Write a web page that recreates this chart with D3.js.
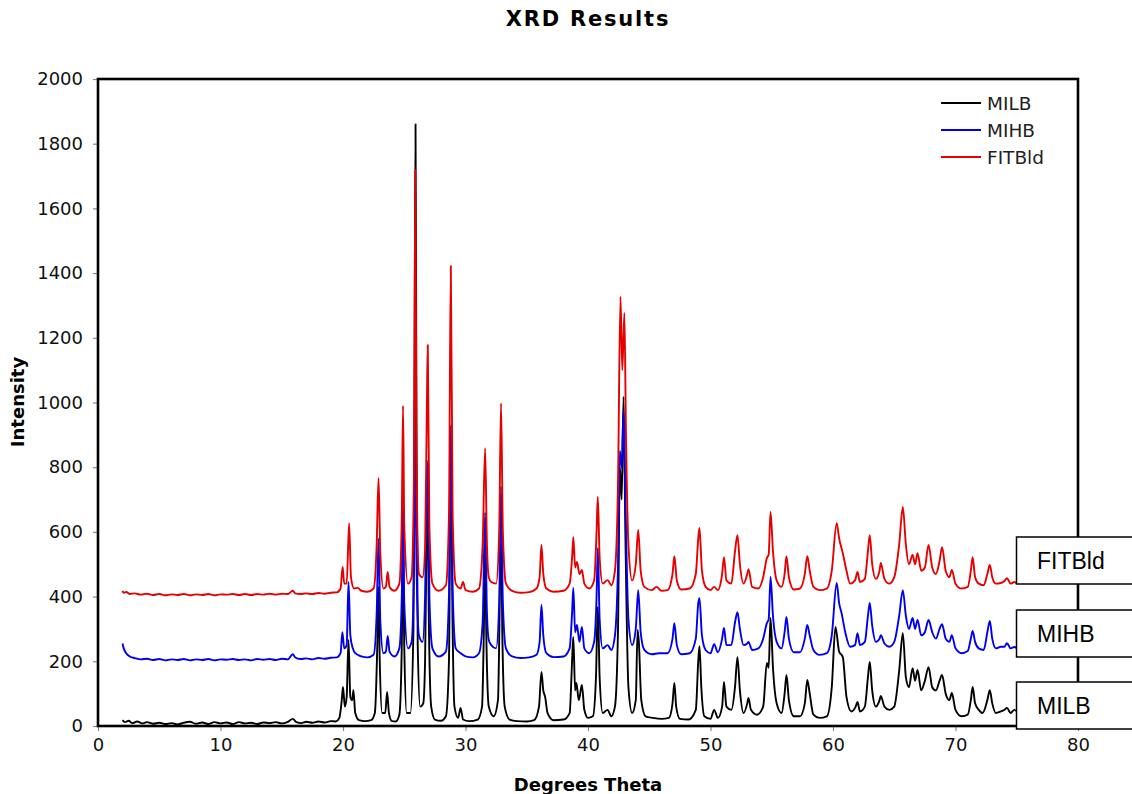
<!DOCTYPE html>
<html><head><meta charset="utf-8">
<script src="https://cdn.jsdelivr.net/npm/d3@7"></script>
<style>body{margin:0;background:#fff}svg{display:block}</style>
</head><body>
<svg id="chart" width="1132" height="794"></svg>
<script>
const seriesNames = ["MILB", "MIHB", "FITBld"];
const seriesColors = ["#000000", "#0000ee", "#e60000"];
const xTicks = [0,10,20,30,40,50,60,70,80];
const yTicks = [0,200,400,600,800,1000,1200,1400,1600,1800,2000];

const milb = [[2.0,18],[2.2,12],[2.5,16],[2.8,9],[3.2,14],[3.6,8],[4.0,12],[4.5,7],[5.0,10],[5.5,6],[6.0,9],[6.5,5],[7.0,10],[7.5,13],[8.0,7],[8.5,11],[9.0,6],[9.5,12],[10.0,8],[10.5,11],[11.0,6],[11.5,12],[12.0,8],[12.5,10],[13.0,6],[13.5,11],[14.0,9],[14.5,12],[15.0,8],[15.5,13],[15.9,22],[16.2,12],[16.6,9],[17.0,13],[17.5,10],[18.0,14],[18.5,11],[19.0,15],[19.4,14],
[19.7,25],[19.9,80],[20.0,121],[20.15,60],[20.3,90],[20.45,266],[20.6,90],[20.75,80],[20.85,111],[21.0,40],[21.3,18],[21.8,15],[22.3,18],[22.6,40],[22.8,250],[22.9,430],[23.0,200],[23.2,40],[23.45,40],[23.6,105],[23.75,40],[24.0,15],[24.3,14],[24.6,35],[24.8,250],[24.9,600],[25.0,250],[25.2,40],[25.5,40],[25.75,300],[25.85,1200],[25.92,1860],[26.0,900],[26.1,250],[26.3,60],[26.55,70],[26.7,200],[26.85,650],[26.92,720],[27.0,350],[27.2,60],[27.5,20],[28.0,16],[28.4,30],[28.65,200],[28.8,860],[28.95,300],[29.1,60],[29.4,25],[29.6,56],[29.8,20],[30.3,15],[31.0,20],[31.35,60],[31.5,300],[31.6,560],[31.7,280],[31.9,60],[32.3,30],[32.65,80],[32.8,400],[32.9,700],[33.0,300],[33.2,60],[33.6,20],[34.2,15],[35.0,14],[35.6,18],[36.0,60],[36.2,167],[36.35,110],[36.5,90],[36.7,40],[37.2,18],[38.0,20],[38.5,40],[38.7,200],[38.8,275],[38.95,110],[39.05,133],[39.25,80],[39.5,127],[39.7,50],[40.0,25],[40.4,30],[40.65,150],[40.8,368],[40.95,150],[41.2,40],[41.6,50],[41.9,30],[42.2,60],[42.45,300],[42.6,800],[42.75,700],[42.9,1018],[43.05,600],[43.3,120],[43.6,40],[43.9,80],[44.05,297],[44.15,260],[44.35,80],[44.7,30],[45.3,25],[46.0,22],[46.6,25],[46.9,70],[47.05,133],[47.2,60],[47.5,22],[48.2,20],[48.8,50],[49.0,200],[49.1,247],[49.25,120],[49.5,30],[50.0,22],[50.3,50],[50.6,25],[50.95,60],[51.1,136],[51.3,60],[51.7,50],[52.0,120],[52.2,213],[52.4,110],[52.7,40],[53.0,70],[53.1,87],[53.3,50],[53.8,35],[54.3,60],[54.6,195],[54.75,180],[54.9,334],[55.1,180],[55.4,70],[55.8,40],[56.05,100],[56.2,158],[56.4,80],[56.8,30],[57.3,30],[57.7,70],[57.9,142],[58.1,100],[58.4,35],[58.9,25],[59.5,30],[59.9,120],[60.2,306],[60.5,230],[60.8,213],[61.1,90],[61.5,45],[61.85,60],[62.0,74],[62.2,45],[62.6,60],[62.85,150],[63.0,198],[63.2,110],[63.5,60],[63.8,80],[63.9,93],[64.2,60],[64.6,50],[65.0,60],[65.4,170],[65.7,287],[65.95,150],[66.2,120],[66.5,179],[66.7,140],[66.9,173],[67.2,110],[67.5,140],[67.8,182],[68.1,120],[68.4,110],[68.7,140],[68.9,158],[69.2,100],[69.5,80],[69.7,102],[70.0,50],[70.5,30],[71.0,35],[71.25,80],[71.4,121],[71.6,70],[71.9,50],[72.2,40],[72.6,80],[72.8,111],[73.0,70],[73.3,40],[73.7,45],[74.0,50],[74.2,56],[74.5,40],[74.8,50],[75.0,45]];

const mihb = [[2.0,255],[2.1,240],[2.3,225],[2.6,215],[3.0,210],[3.5,206],[4.0,208],[4.5,204],[5.0,207],[5.5,203],[6.0,206],[6.5,204],[7.0,207],[7.5,203],[8.0,206],[8.5,204],[9.0,207],[9.5,203],[10.0,206],[10.5,205],[11.0,207],[11.5,204],[12.0,206],[12.5,203],[13.0,207],[13.5,205],[14.0,207],[14.5,204],[15.0,208],[15.5,206],[15.9,222],[16.1,212],[16.5,207],[17.0,209],[17.5,206],[18.0,210],[18.5,208],[19.0,211],[19.5,212],
[19.8,225],[19.95,290],[20.1,240],[20.3,250],[20.45,445],[20.6,280],[20.8,240],[21.0,225],[21.5,215],[22.0,212],[22.5,220],[22.75,350],[22.9,580],[23.05,320],[23.3,225],[23.5,230],[23.65,278],[23.8,230],[24.2,215],[24.6,240],[24.8,400],[24.9,700],[25.0,380],[25.3,240],[25.6,260],[25.8,500],[25.9,1150],[26.0,500],[26.2,280],[26.5,260],[26.7,400],[26.85,750],[26.95,820],[27.05,400],[27.3,240],[27.8,215],[28.4,230],[28.65,400],[28.8,930],[28.95,420],[29.2,240],[29.6,225],[30.0,215],[30.6,212],[31.1,225],[31.4,320],[31.6,660],[31.75,350],[31.9,266],[32.1,250],[32.5,240],[32.75,380],[32.9,740],[33.05,380],[33.3,240],[33.8,215],[34.5,210],[35.2,212],[35.8,220],[36.05,260],[36.2,374],[36.35,280],[36.6,225],[37.2,213],[38.0,215],[38.5,240],[38.7,350],[38.8,427],[38.95,290],[39.1,312],[39.3,260],[39.5,306],[39.7,240],[40.1,225],[40.5,260],[40.7,400],[40.8,550],[40.95,330],[41.2,240],[41.6,250],[41.9,235],[42.2,280],[42.45,500],[42.6,850],[42.75,800],[42.9,975],[43.05,700],[43.3,330],[43.6,250],[43.9,300],[44.1,420],[44.3,290],[44.6,235],[45.2,222],[45.8,225],[46.5,225],[46.9,270],[47.05,318],[47.25,250],[47.6,222],[48.3,225],[48.8,270],[49.0,380],[49.1,395],[49.3,280],[49.6,235],[50.0,225],[50.3,253],[50.6,228],[50.95,270],[51.1,303],[51.3,250],[51.7,250],[52.0,320],[52.2,352],[52.4,300],[52.7,250],[53.0,255],[53.1,260],[53.4,235],[53.9,240],[54.3,270],[54.6,318],[54.75,330],[54.9,461],[55.1,340],[55.4,260],[55.8,240],[56.05,290],[56.2,337],[56.4,270],[56.8,228],[57.3,228],[57.7,270],[57.9,312],[58.1,280],[58.4,235],[58.9,220],[59.5,225],[59.9,280],[60.3,442],[60.5,380],[60.7,349],[61.0,290],[61.4,245],[61.8,250],[62.0,287],[62.2,250],[62.6,260],[62.85,340],[63.0,380],[63.2,310],[63.5,260],[63.8,270],[63.9,281],[64.2,255],[64.6,245],[65.0,260],[65.4,340],[65.7,420],[65.95,340],[66.2,300],[66.5,334],[66.7,300],[66.9,328],[67.2,280],[67.5,290],[67.8,328],[68.1,290],[68.4,270],[68.7,300],[68.9,315],[69.2,270],[69.5,260],[69.7,281],[70.0,240],[70.5,225],[71.0,232],[71.25,270],[71.4,294],[71.6,260],[71.9,240],[72.3,235],[72.6,290],[72.8,325],[73.0,270],[73.3,240],[73.7,245],[74.0,245],[74.2,256],[74.5,240],[74.8,244],[75.0,240]];

const fitbld = [[2.0,418],[2.1,412],[2.3,414],[2.6,408],[3.0,410],[3.5,406],[4.0,409],[4.5,405],[5.0,408],[5.5,404],[6.0,407],[6.5,405],[7.0,408],[7.5,404],[8.0,407],[8.5,405],[9.0,408],[9.5,404],[10.0,407],[10.5,406],[11.0,408],[11.5,405],[12.0,408],[12.5,405],[13.0,408],[13.5,406],[14.0,409],[14.5,406],[15.0,409],[15.5,408],[15.9,418],[16.1,410],[16.5,408],[17.0,410],[17.5,408],[18.0,411],[18.5,409],[19.0,412],[19.5,413],
[19.8,425],[19.97,492],[20.1,440],[20.3,440],[20.5,627],[20.65,460],[20.9,425],[21.2,427],[21.5,418],[22.0,415],[22.5,425],[22.75,560],[22.9,767],[23.05,530],[23.3,425],[23.5,430],[23.65,476],[23.8,430],[24.2,418],[24.6,440],[24.8,650],[24.9,990],[25.0,620],[25.3,440],[25.6,460],[25.8,800],[25.9,1720],[26.0,800],[26.2,470],[26.5,460],[26.7,544],[26.85,1000],[26.92,1178],[27.05,620],[27.3,440],[27.8,418],[28.4,435],[28.65,650],[28.8,1422],[28.95,650],[29.2,440],[29.6,425],[29.8,445],[30.0,420],[30.6,415],[31.1,425],[31.4,560],[31.6,859],[31.75,560],[31.9,460],[32.1,445],[32.5,440],[32.75,600],[32.9,998],[33.05,600],[33.3,440],[33.8,418],[34.5,412],[35.2,414],[35.8,425],[36.05,460],[36.2,560],[36.35,470],[36.6,425],[37.2,415],[38.0,418],[38.5,440],[38.7,520],[38.8,584],[38.95,490],[39.1,507],[39.3,470],[39.5,482],[39.7,440],[40.1,425],[40.5,450],[40.7,600],[40.8,709],[40.95,520],[41.2,440],[41.6,451],[41.9,435],[42.2,480],[42.45,750],[42.65,1327],[42.8,1100],[42.97,1277],[43.1,900],[43.3,560],[43.6,450],[43.9,500],[44.1,606],[44.3,480],[44.6,430],[45.2,420],[45.6,430],[46.0,418],[46.5,420],[46.9,470],[47.05,525],[47.25,450],[47.6,422],[48.3,425],[48.8,470],[49.0,580],[49.1,612],[49.3,480],[49.6,430],[50.0,420],[50.3,430],[50.6,420],[50.95,470],[51.1,522],[51.3,450],[51.7,440],[52.0,540],[52.2,590],[52.4,500],[52.7,440],[53.0,470],[53.1,485],[53.4,430],[53.9,425],[54.3,460],[54.6,519],[54.75,530],[54.9,662],[55.1,540],[55.4,450],[55.8,430],[56.05,470],[56.2,525],[56.4,460],[56.8,422],[57.3,425],[57.7,470],[57.9,525],[58.1,480],[58.4,430],[58.9,420],[59.5,425],[59.9,480],[60.3,627],[60.5,580],[60.8,534],[61.1,480],[61.4,440],[61.8,450],[62.0,476],[62.2,445],[62.6,455],[62.85,540],[63.0,590],[63.2,500],[63.5,455],[63.8,480],[63.9,504],[64.2,455],[64.6,440],[65.0,460],[65.4,560],[65.7,677],[65.95,560],[66.2,500],[66.5,529],[66.7,500],[66.9,534],[67.2,480],[67.5,490],[67.8,560],[68.1,490],[68.4,470],[68.7,510],[68.9,553],[69.2,480],[69.5,460],[69.7,482],[70.0,440],[70.5,425],[71.0,430],[71.25,480],[71.4,522],[71.6,460],[71.9,440],[72.3,435],[72.6,470],[72.8,498],[73.0,460],[73.3,440],[73.7,442],[74.0,448],[74.2,457],[74.5,440],[74.8,445],[75.0,440]];

const seriesData = [milb, mihb, fitbld];

const svg = d3.select("#chart");
const L = 98, R = 1078, T = 79, B = 726;
const x = d3.scaleLinear().domain([0, 80]).range([L, R]);
const y = d3.scaleLinear().domain([0, 2000]).range([B, T]);
const font = "'DejaVu Sans', Verdana, sans-serif";

// title
svg.append("text").attr("x", 588).attr("y", 26).attr("text-anchor", "middle")
  .attr("font-family", font).attr("font-weight", "bold").attr("font-size", 21)
  .attr("letter-spacing", 1.8).text("XRD Results");

// axes
const xAxis = d3.axisBottom(x).tickValues(xTicks).tickSize(5).tickPadding(5).tickFormat(d3.format("d"));
const gx = svg.append("g").attr("transform", `translate(0,${B})`).call(xAxis);
const yAxis = d3.axisLeft(y).tickValues(yTicks).tickSize(5).tickPadding(10).tickFormat(d3.format("d"));
const gy = svg.append("g").attr("transform", `translate(${L},0)`).call(yAxis);
[gx, gy].forEach(g => {
  g.select(".domain").remove();
  g.selectAll(".tick line").attr("stroke", "#888").attr("stroke-width", 1.2);
  g.selectAll(".tick text").attr("font-family", font).attr("font-size", 18).attr("fill", "#111");
});
gx.selectAll(".tick text").attr("dy", "0.85em");

// axis titles
svg.append("text").attr("x", 588).attr("y", 791).attr("text-anchor", "middle")
  .attr("font-family", font).attr("font-weight", "bold").attr("font-size", 18).text("Degrees Theta");
svg.append("text").attr("transform", "translate(24,402) rotate(-90)").attr("text-anchor", "middle")
  .attr("font-family", font).attr("font-weight", "bold").attr("font-size", 18).text("Intensity");

// series
const line = d3.line().x(d => x(d[0])).y(d => y(d[1])).curve(d3.curveMonotoneX);
seriesData.forEach((data, i) => {
  svg.append("path").datum(data).attr("d", line)
    .attr("fill", "none").attr("stroke", seriesColors[i]).attr("stroke-width", 1.9)
    .attr("stroke-linejoin", "round");
});

// frame
svg.append("rect").attr("x", L).attr("y", T).attr("width", R - L).attr("height", B - T)
  .attr("fill", "none").attr("stroke", "#000").attr("stroke-width", 2.6);

// legend
const legend = svg.append("g");
seriesNames.forEach((name, i) => {
  const ly = 103 + i * 27;
  legend.append("line").attr("x1", 941).attr("x2", 981).attr("y1", ly).attr("y2", ly)
    .attr("stroke", seriesColors[i]).attr("stroke-width", 1.8);
  legend.append("text").attr("x", 987).attr("y", ly + 7).attr("font-family", font)
    .attr("font-size", 18.5).attr("fill", "#222").text(name);
});

// label boxes at the end of each trace
const boxLabels = ["FITBld", "MIHB", "MILB"];
const boxTops = [537, 610, 682];
boxLabels.forEach((name, i) => {
  svg.append("rect").attr("x", 1016.5).attr("y", boxTops[i]).attr("width", 130).attr("height", 47)
    .attr("fill", "#fff").attr("stroke", "#000").attr("stroke-width", 1.5);
  svg.append("text").attr("x", 1037).attr("y", boxTops[i] + 32).attr("font-family", "'Liberation Sans', Arial, sans-serif")
    .attr("font-size", 23).attr("fill", "#000").text(name);
});
</script>
</body></html>
